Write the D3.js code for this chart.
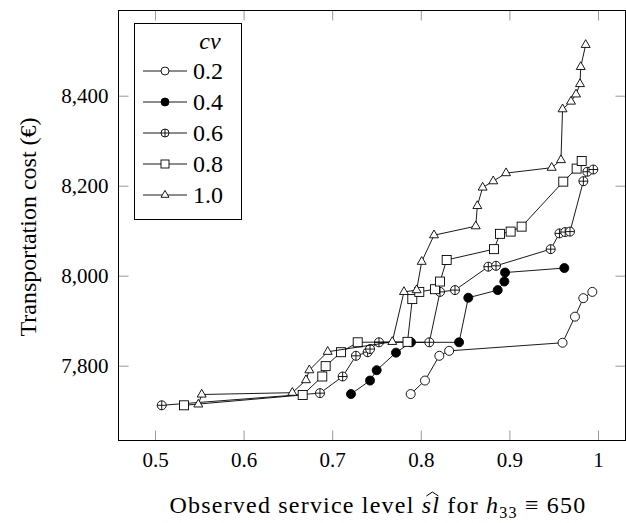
<!DOCTYPE html>
<html>
<head>
<meta charset="utf-8">
<script src="https://cdn.jsdelivr.net/npm/d3@7"></script>
<style>
  body { margin: 0; background: #fff; }
  svg, text { font-family: 'Liberation Serif', 'Times New Roman', Times, serif; fill: #000; }
</style>
</head>
<body>
<div id="chart"></div>
<script>
// legend labels (cv values)
const cvLabels = ["0.2", "0.4", "0.6", "0.8", "1.0"];
const markers = ["circle", "filled", "oplus", "square", "triangle"];

// observed service level (x) and transportation cost (y) per series
const sl_02 = [0.7886, 0.8047, 0.8209, 0.832, 0.960, 0.974, 0.9834, 0.9936];
const cost_02 = [7737, 7767, 7822, 7833, 7851, 7909, 7950, 7964];

const sl_04 = [0.7212, 0.7427, 0.7502, 0.772, 0.7889, 0.8432, 0.8536, 0.8868, 0.8943, 0.8951, 0.962];
const cost_04 = [7737, 7767, 7790, 7829, 7852, 7852, 7951, 7968, 7987, 8007, 8017];

const sl_06 = [0.5076, 0.6862, 0.7118, 0.7268, 0.74, 0.7427, 0.7528, 0.8096, 0.8217, 0.8386, 0.8762, 0.8849,
  0.9466, 0.9565, 0.963, 0.9684, 0.9835, 0.988, 0.9947];
const cost_06 = [7712, 7739, 7776, 7822, 7830, 7837, 7852, 7852, 7964, 7968, 8020, 8022,
  8059, 8094, 8097, 8098, 8210, 8231, 8236];

const sl_08 = [0.5327, 0.6667, 0.6888, 0.6926, 0.7099, 0.7288, 0.785, 0.7904, 0.7983, 0.816, 0.8217, 0.8292,
  0.8826, 0.8894, 0.9014, 0.9138, 0.9608, 0.9759, 0.9816];
const cost_08 = [7712, 7735, 7776, 7799, 7830, 7852, 7853, 7948, 7964, 7970, 7987, 8035,
  8059, 8093, 8098, 8109, 8209, 8238, 8255];

const sl_10 = [0.5489, 0.5527, 0.655, 0.6704, 0.6742, 0.6949, 0.7678, 0.781, 0.7953, 0.801, 0.8149, 0.862,
  0.8638, 0.8698, 0.8818, 0.8962, 0.9477, 0.9582, 0.960, 0.9695, 0.9752, 0.9797, 0.9805, 0.9861];
const cost_10 = [7714, 7736, 7740, 7768, 7790, 7831, 7853, 7964, 7968, 8031, 8090, 8110,
  8155, 8196, 8210, 8228, 8240, 8257, 8370, 8387, 8403, 8426, 8464, 8513];

const xTicks = [0.5, 0.6, 0.7, 0.8, 0.9, 1];
const yTicks = [7800, 8000, 8200, 8400];

const slSeries = [sl_02, sl_04, sl_06, sl_08, sl_10];
const costSeries = [cost_02, cost_04, cost_06, cost_08, cost_10];

const width = 626, height = 523;
const frame = { left: 118.5, right: 625.5, top: 10.5, bottom: 440.5 };
const serif = "'Liberation Serif', 'Times New Roman', Times, serif";

const svg = d3.select("#chart").append("svg")
  .attr("width", width)
  .attr("height", height)
  .style("font-family", serif);

const x = d3.scaleLinear().domain([0.5, 1]).range([155, 598]);
const y = d3.scaleLinear().domain([7800, 8400]).range([365.7, 95.7]);

// inward ticks on all four sides
const tickColor = "#999";
function styleAxis(g) {
  g.attr("font-family", null).style("font-family", serif);
  g.select(".domain").remove();
  g.selectAll(".tick line").attr("stroke", tickColor).attr("stroke-width", 1);
  g.selectAll(".tick text").style("font-size", "21px").attr("fill", "#000");
}

svg.append("g")
  .attr("transform", `translate(0,${frame.bottom})`)
  .call(d3.axisBottom(x).tickValues(xTicks).tickSize(-10).tickPadding(8)
    .tickFormat(d => d === 1 ? "1" : d3.format(".1f")(d)))
  .call(styleAxis)
  .selectAll(".tick text").attr("dy", "0.9em");

svg.append("g")
  .attr("transform", `translate(0,${frame.top})`)
  .call(d3.axisTop(x).tickValues(xTicks).tickSize(-10).tickFormat(""))
  .call(styleAxis);

svg.append("g")
  .attr("transform", `translate(${frame.left},0)`)
  .call(d3.axisLeft(y).tickValues(yTicks).tickSize(-10).tickPadding(10).tickFormat(d3.format(",")))
  .call(styleAxis);

svg.append("g")
  .attr("transform", `translate(${frame.right},0)`)
  .call(d3.axisRight(y).tickValues(yTicks).tickSize(-10).tickFormat(""))
  .call(styleAxis);

svg.append("rect")
  .attr("x", frame.left)
  .attr("y", frame.top)
  .attr("width", frame.right - frame.left)
  .attr("height", frame.bottom - frame.top)
  .attr("fill", "none")
  .attr("stroke", "#000")
  .attr("stroke-width", 1);

// marker drawing
function drawMarker(g, type, cx, cy, s) {
  if (type === "circle" || type === "filled" || type === "oplus") {
    g.append("circle")
      .attr("cx", cx).attr("cy", cy).attr("r", s)
      .attr("fill", type === "filled" ? "#000" : "#fff")
      .attr("stroke", "#000").attr("stroke-width", 0.9);
    if (type === "oplus") {
      g.append("path")
        .attr("d", `M${cx - s},${cy}H${cx + s}M${cx},${cy - s}V${cy + s}`)
        .attr("stroke", "#000").attr("stroke-width", 0.9);
    }
  } else if (type === "square") {
    g.append("rect")
      .attr("x", cx - s).attr("y", cy - s)
      .attr("width", 2 * s).attr("height", 2 * s)
      .attr("fill", "#fff").attr("stroke", "#000").attr("stroke-width", 0.9);
  } else {
    const r = s * 1.15;
    g.append("path")
      .attr("d", `M${cx},${cy - r}L${cx + r * 0.866},${cy + r * 0.5}L${cx - r * 0.866},${cy + r * 0.5}Z`)
      .attr("fill", "#fff").attr("stroke", "#000").attr("stroke-width", 0.9);
  }
}

const line = d3.line().x(d => x(d[0])).y(d => y(d[1]));
const plot = svg.append("g");

slSeries.forEach((xs, i) => {
  const pts = xs.map((v, k) => [v, costSeries[i][k]]);
  const g = plot.append("g");
  g.append("path")
    .datum(pts)
    .attr("d", line)
    .attr("fill", "none")
    .attr("stroke", "#000")
    .attr("stroke-width", 0.9);
  pts.forEach(p => drawMarker(g, markers[i], x(p[0]), y(p[1]), 4.5));
});

// legend
const legend = svg.append("g");
legend.append("rect")
  .attr("x", 134.5).attr("y", 23.5)
  .attr("width", 107).attr("height", 196)
  .attr("fill", "#fff").attr("stroke", "#000").attr("stroke-width", 1);

legend.append("text")
  .attr("x", 210).attr("y", 49)
  .attr("text-anchor", "middle")
  .style("font-size", "24px")
  .style("font-style", "italic")
  .text("cv");

cvLabels.forEach((lab, i) => {
  const ly = 71 + i * 31;
  legend.append("line")
    .attr("x1", 143).attr("x2", 187)
    .attr("y1", ly).attr("y2", ly)
    .attr("stroke", "#000").attr("stroke-width", 0.9);
  drawMarker(legend, markers[i], 165, ly, 4);
  legend.append("text")
    .attr("x", 193).attr("y", ly + 8)
    .style("font-size", "24px")
    .text(lab);
});

// axis labels
svg.append("text")
  .attr("transform", "translate(36,227) rotate(-90)")
  .attr("text-anchor", "middle")
  .style("font-size", "24px")
  .text("Transportation cost (€)");

const titleY = 513;
const xl = svg.append("text")
  .attr("x", 378).attr("y", titleY)
  .attr("text-anchor", "middle")
  .style("font-size", "24px")
  .style("letter-spacing", "1.2px");
xl.append("tspan").text("Observed service level ");
xl.append("tspan").style("font-style", "italic").text("sl");
xl.append("tspan").text(" for ");
xl.append("tspan").style("font-style", "italic").text("h");
xl.append("tspan").attr("dy", 5).style("font-size", "16px").text("33");
xl.append("tspan").attr("dy", -5).text(" ≡ 650");

// wide hat over "sl"
const node = xl.node();
const hs = node.getStartPositionOfChar(23).x;
const he = node.getEndPositionOfChar(24).x;
const hc = (hs + he) / 2 + 1.5;
svg.append("path")
  .attr("d", `M${hc - 6},${titleY - 17}L${hc},${titleY - 21}L${hc + 6},${titleY - 17}`)
  .attr("fill", "none")
  .attr("stroke", "#000")
  .attr("stroke-width", 1);
</script>
</body>
</html>
